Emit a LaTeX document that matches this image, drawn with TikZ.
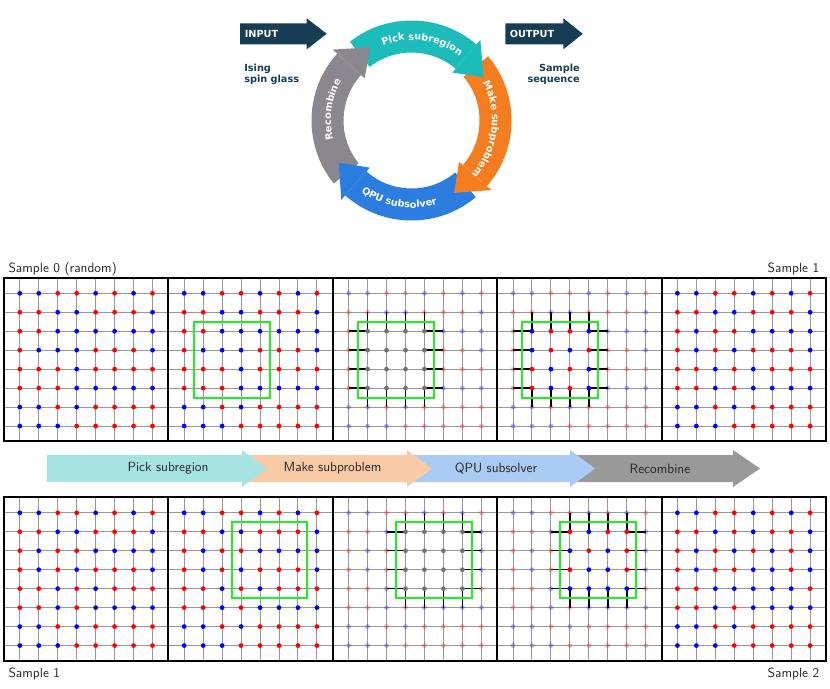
\documentclass[tikz,border=0pt]{standalone}
\usepackage{fontspec}
\newfontfamily\dvsans{DejaVu Sans}
\usetikzlibrary{decorations.text}

\definecolor{navy}{RGB}{23,61,85}
\definecolor{cteal}{RGB}{28,188,187}
\definecolor{corange}{RGB}{244,125,32}
\definecolor{cblue}{RGB}{43,125,224}
\definecolor{cgray}{RGB}{138,136,142}
\definecolor{bteal}{RGB}{166,228,226}
\definecolor{bpeach}{RGB}{249,202,166}
\definecolor{bblue}{RGB}{170,203,243}
\definecolor{bgray}{RGB}{153,153,153}
\definecolor{spinB}{RGB}{0,0,255}
\definecolor{spinR}{RGB}{255,0,0}
\definecolor{spinG}{RGB}{115,115,115}
\definecolor{boxgreen}{RGB}{30,240,30}

\newcommand\cyclefont{\dvsans\bfseries\fontsize{7.3}{8.8}\selectfont}
\newcommand\labfont{\sffamily\fontsize{10}{12}\selectfont}

\def\SampZero{%
{B,B,R,R,B,R,B,R},%
{R,R,B,B,R,R,R,B},%
{R,R,B,B,B,B,B,B},%
{R,B,B,B,R,R,R,B},%
{R,R,R,B,R,R,R,R},%
{R,R,R,B,B,B,B,B},%
{B,B,R,B,R,R,R,R},%
{B,B,B,R,R,R,R,R}}
\def\SampOne{%
{B,B,R,R,B,R,B,R},%
{R,R,B,B,R,R,R,B},%
{R,B,R,R,B,B,B,B},%
{R,B,R,B,R,R,R,B},%
{R,R,B,R,B,R,R,R},%
{R,R,B,R,B,B,B,B},%
{B,B,R,B,R,R,R,R},%
{B,B,B,R,R,R,R,R}}
\def\SampTwo{%
{B,B,R,R,B,R,B,R},%
{R,R,B,R,B,R,R,B},%
{R,B,R,B,R,B,R,B},%
{R,B,R,R,B,B,R,B},%
{R,R,B,B,B,B,B,R},%
{R,R,B,R,B,B,B,B},%
{B,B,R,B,R,R,R,R},%
{B,B,B,R,R,R,R,R}}

\tikzset{
  gridline/.style={draw=black!40, line width=0.75pt},
  subbox/.style={draw=boxgreen, line width=1.5pt},
  stubline/.style={draw=black, line width=1.1pt},
  panelframe/.style={draw=black, line width=1.5pt},
  toptext/.style={font=\cyclefont, inner sep=0pt},
  labtext/.style={font=\labfont, inner sep=0pt, text=black!85},
}

% #1 x0, #2 y0, #3 rows, #4 mode (0 plain, 1 box, 2 gray sub, 3 solved sub), #5 c1, #6 c2, #7 r1, #8 r2
\newcommand\spinpanel[8]{%
  \foreach \k in {0,...,7}{%
    \draw[gridline] ({#1+15.8+18.96*\k},#2) -- ++(0,163.5);
    \draw[gridline] (#1,{#2+15.8+18.96*\k}) -- ++(164.4,0);
  }%
  \ifnum#4>1
    \foreach \i in {#5,...,#6}{%
      \draw[stubline] ({#1+15.8+18.96*(\i-1)},{#2+15.8+18.96*(#7-2)}) -- ++(0,18.96);
      \draw[stubline] ({#1+15.8+18.96*(\i-1)},{#2+15.8+18.96*(#8-1)}) -- ++(0,18.96);
    }%
    \foreach \j in {#7,...,#8}{%
      \draw[stubline] ({#1+15.8+18.96*(#5-2)},{#2+15.8+18.96*(\j-1)}) -- ++(18.96,0);
      \draw[stubline] ({#1+15.8+18.96*(#6-1)},{#2+15.8+18.96*(\j-1)}) -- ++(18.96,0);
    }%
  \fi
  \foreach \row [count=\j] in #3 {%
    \foreach \c [count=\i] in \row {%
      \def\inside{0}%
      \ifnum\i<#5 \else\ifnum\i>#6 \else\ifnum\j<#7 \else\ifnum\j>#8 \else\def\inside{1}\fi\fi\fi\fi
      \ifnum#4<2
        \fill[fill=spin\c] ({#1+15.8+18.96*(\i-1)},{#2+15.8+18.96*(\j-1)}) circle[radius=2.4];
      \else
        \ifnum\inside=1
          \ifnum#4=2
            \fill[fill=spinG] ({#1+15.8+18.96*(\i-1)},{#2+15.8+18.96*(\j-1)}) circle[radius=2.4];
          \else
            \fill[fill=spin\c] ({#1+15.8+18.96*(\i-1)},{#2+15.8+18.96*(\j-1)}) circle[radius=2.4];
          \fi
        \else
          \fill[fill=spin\c, fill opacity=0.3] ({#1+15.8+18.96*(\i-1)},{#2+15.8+18.96*(\j-1)}) circle[radius=2.4];
        \fi
      \fi
    }%
  }%
  \ifnum#4>0
    \draw[subbox] ({#1+15.8+18.96*(#5-1.5)},{#2+15.8+18.96*(#7-1.5)})
      -- ({#1+15.8+18.96*(#6-0.5)},{#2+15.8+18.96*(#7-1.5)})
      -- ({#1+15.8+18.96*(#6-0.5)},{#2+15.8+18.96*(#8-0.5)})
      -- ({#1+15.8+18.96*(#5-1.5)},{#2+15.8+18.96*(#8-0.5)}) -- cycle;
  \fi
  \draw[panelframe] (#1,#2) rectangle ++(164.4,163.5);
}

\begin{document}
\begin{tikzpicture}[x=0.75pt, y=-0.75pt]
\useasboundingbox (0,0) rectangle (830,688);

% ---------- top: INPUT / OUTPUT ----------
\fill[navy] (240,23.3) -- (306.7,23.3) -- (306.7,18.3) -- (326.7,33.8) -- (306.7,49.3) -- (306.7,44.3) -- (240,44.3) -- cycle;
\node[toptext, text=white, anchor=base west] (inp) at (244.5,37.4) {INPUT};
\fill[navy] (505.3,23.3) -- (563.3,23.3) -- (563.3,18.3) -- (582.7,33.8) -- (563.3,49.3) -- (563.3,44.3) -- (505.3,44.3) -- cycle;
\node[toptext, text=white, anchor=base west] (outp) at (509.5,37.4) {OUTPUT};
\node[toptext, text=navy, anchor=base west] (ising1) at (244,71.5) {Ising};
\node[toptext, text=navy, anchor=base west] (ising2) at (244,82.7) {spin glass};
\node[toptext, text=navy, anchor=base east] (samp1) at (580,71.5) {Sample};
\node[toptext, text=navy, anchor=base east] (samp2) at (580,82.7) {sequence};

% ---------- cycle ----------
\begin{scope}[shift={(411.5,120.5)}, x=0.75pt, y=0.75pt]
  % bodies
  \fill[cteal] (128:100) arc[start angle=128, end angle=49.5, radius=100] -- (49.5:68) arc[start angle=49.5, end angle=128, radius=68] -- cycle;
  \fill[corange] (40:100) arc[start angle=40, end angle=-41, radius=100] -- (-41:68) arc[start angle=-41, end angle=40, radius=68] -- cycle;
  \fill[cblue] (-50:100) arc[start angle=-50, end angle=-131.5, radius=100] -- (-131.5:68) arc[start angle=-131.5, end angle=-50, radius=68] -- cycle;
  \fill[cgray] (-141:100) arc[start angle=-141, end angle=-222, radius=100] -- (-222:68) arc[start angle=-222, end angle=-141, radius=68] -- cycle;
  % heads
  \fill[cteal] (49.5:63) -- (49.5:106) -- (31:84) -- cycle;
  \fill[corange] (-41:63) -- (-41:106) -- (-59.5:84) -- cycle;
  \fill[cblue] (-131.5:63) -- (-131.5:106) -- (-150:84) -- cycle;
  \fill[cgray] (138:63) -- (138:106) -- (119.5:84) -- cycle;
  % labels
  \path[decorate, decoration={text along path, text={|\cyclefont|Pick subregion}, text color=white, text align=center}]
    (125:80.5) arc[start angle=125, end angle=39, radius=80.5];
  \path[decorate, decoration={text along path, text={|\cyclefont|Make subproblem}, text color=white, text align=center}]
    (36:80.5) arc[start angle=36, end angle=-50, radius=80.5];
  \path[decorate, decoration={text along path, text={|\cyclefont|QPU subsolver}, text color=white, text align=center}]
    (215:87.5) arc[start angle=215, end angle=307, radius=87.5];
  \path[decorate, decoration={text along path, text={|\cyclefont|Recombine}, text color=white, text align=center}]
    (210:80.5) arc[start angle=210, end angle=134, radius=80.5];
\end{scope}

% ---------- sample labels ----------
\node[labtext, anchor=base west] (s0) at (8.3,272.3) {Sample 0 (random)};
\node[labtext, anchor=base east] (s1a) at (819.5,272.3) {Sample 1};
\node[labtext, anchor=base west] (s1b) at (8.3,677.3) {Sample 1};
\node[labtext, anchor=base east] (s2) at (819.5,677.3) {Sample 2};

% ---------- panels ----------
\spinpanel{4}{277.5}{\SampZero}{0}{0}{0}{0}{0}
\spinpanel{168.4}{277.5}{\SampZero}{1}{2}{5}{3}{6}
\spinpanel{332.8}{277.5}{\SampZero}{2}{2}{5}{3}{6}
\spinpanel{497.2}{277.5}{\SampOne}{3}{2}{5}{3}{6}
\spinpanel{661.6}{277.5}{\SampOne}{0}{0}{0}{0}{0}

\spinpanel{4}{497}{\SampOne}{0}{0}{0}{0}{0}
\spinpanel{168.4}{497}{\SampOne}{1}{4}{7}{2}{5}
\spinpanel{332.8}{497}{\SampOne}{2}{4}{7}{2}{5}
\spinpanel{497.2}{497}{\SampTwo}{3}{4}{7}{2}{5}
\spinpanel{661.6}{497}{\SampTwo}{0}{0}{0}{0}{0}

% ---------- band arrows ----------
\fill[bgray] (570,455) -- (733,455) -- (733,450) -- (760,468.5) -- (733,487) -- (733,482) -- (570,482) -- cycle;
\fill[bblue] (407,455) -- (570,455) -- (570,450) -- (595,468.5) -- (570,487) -- (570,482) -- (407,482) -- cycle;
\fill[bpeach] (242,455) -- (407,455) -- (407,450) -- (432,468.5) -- (407,487) -- (407,482) -- (242,482) -- cycle;
\fill[bteal] (47,455) -- (242,455) -- (242,450) -- (267,468.5) -- (242,487) -- (242,482) -- (47,482) -- cycle;
\node[labtext] (b1) at (168,468.5) {Pick subregion};
\node[labtext] (b2) at (332.5,468.5) {Make subproblem};
\node[labtext] (b3) at (496,468.5) {QPU subsolver};
\node[labtext] (b4) at (660,468.5) {Recombine};
\end{tikzpicture}
\end{document}
